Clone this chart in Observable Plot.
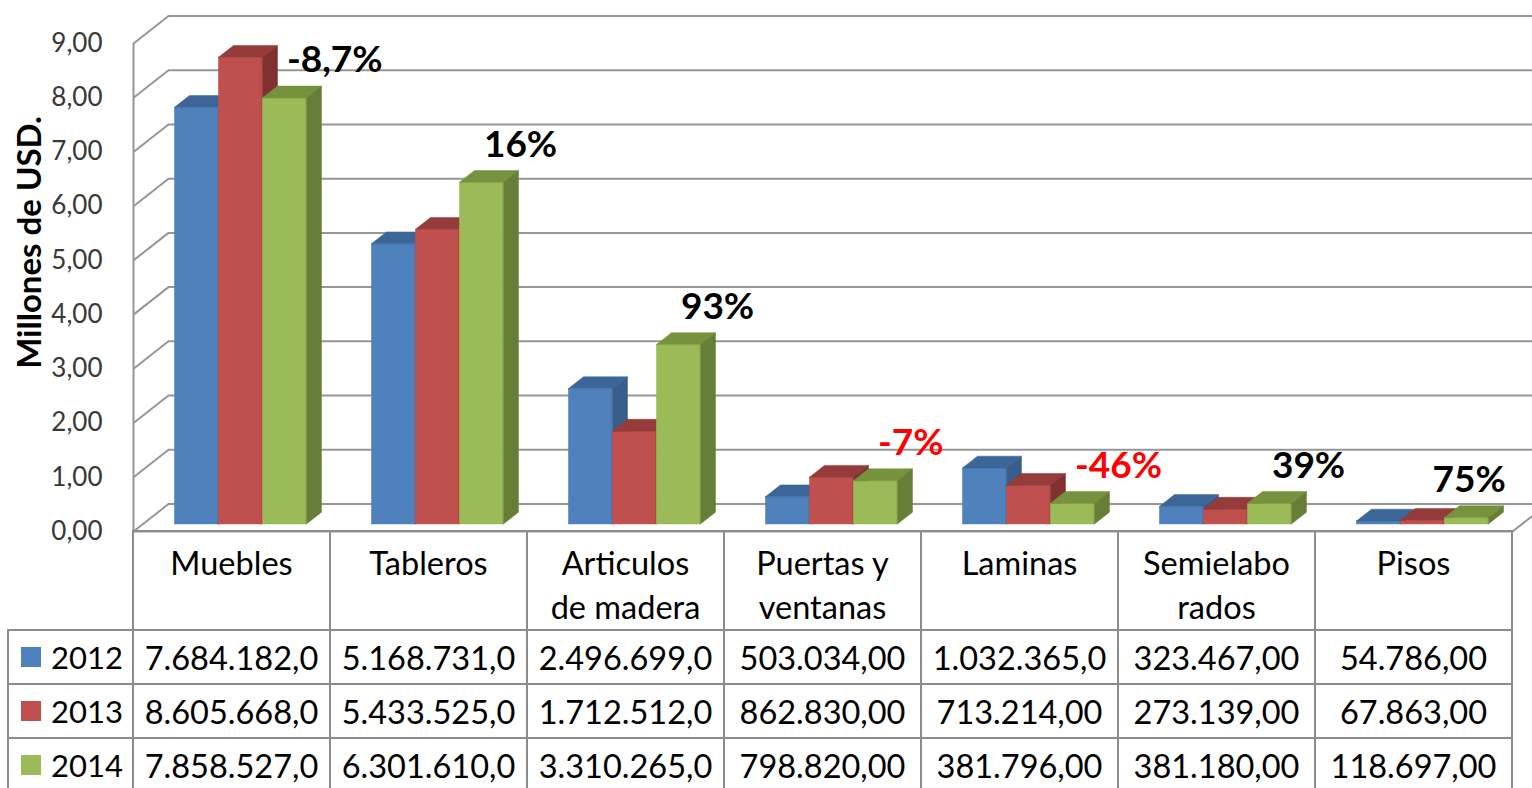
<!DOCTYPE html>
<html>
<head>
<meta charset="utf-8">
<script src="https://cdn.jsdelivr.net/npm/d3@7"></script>
<script src="https://cdn.jsdelivr.net/npm/@observablehq/plot@0.6"></script>
<style>
  html, body { margin: 0; padding: 0; background: #fff; }
  #wrap { position: relative; width: 1532px; height: 788px; overflow: hidden; font-family: Lato, "Open Sans", sans-serif; background: #fff; }
  #wrap svg { position: absolute; left: 0; top: 0; }
  .cell { position: absolute; box-sizing: border-box; border: 2px solid #8c8c8c; display: flex; align-items: center; justify-content: center; font-size: 32.5px; color: #000; white-space: nowrap; }
  .head { align-items: flex-start; text-align: center; white-space: normal; overflow-wrap: anywhere; line-height: 44px; padding: 9px 20px 0 20px; }
  .leg { justify-content: flex-start; padding-left: 12px; font-size: 31px; }
  .sw { width: 20px; height: 20px; margin-right: 10px; flex: none; }
</style>
</head>
<body>
<div id="wrap"></div>
<script>
// ---- data ----
const categories = ["Muebles", "Tableros", "Articulos de madera", "Puertas y ventanas", "Laminas", "Semielaborados", "Pisos"];
const years = ["2012", "2013", "2014"];
const v2012 = [7684182.0, 5168731.0, 2496699.0, 503034.00, 1032365.0, 323467.00, 54786.00];
const v2013 = [8605668.0, 5433525.0, 1712512.0, 862830.00, 713214.00, 273139.00, 67863.00];
const v2014 = [7858527.0, 6301610.0, 3310265.0, 798820.00, 381796.00, 381180.00, 118697.00];
const pctLabels = ["-8,7%", "16%", "93%", "-7%", "-46%", "39%", "75%"];
const pctHighlight = [false, false, false, true, true, false, false];
const yTicks = [0, 1, 2, 3, 4, 5, 6, 7, 8, 9];
const yTitle = "Millones de USD.";

// ---- styles ----
const frontColors = ["#4F81BD", "#C0504D", "#9BBB59"];
const topColors = ["#3C6697", "#953B39", "#76923C"];
const sideColors = ["#385D8A", "#7F302F", "#667E37"];
const gridColor = "#969696";

// ---- geometry ----
const W = 1532, H = 533, mL = 133, mR = 20, mT = 43, mB = 2;
const kx = (W - mL - mR) / categories.length;
const ky = (H - mT - mB) / 9;
const DXu = 35 / kx, DYu = 27.5 / ky;      // full wall depth in data units
const F0 = 0.255, FD = 0.43;               // bar front depth, bar thickness (fractions)
const BW = 44 / kx, PAD = (1 - 3 * BW) / 2;

const series = [v2012, v2013, v2014];
const fmtTick = d => d.toFixed(2).replace(".", ",");
function fmtVal(v) {
  const dec = v >= 1e6 ? 1 : 2;
  const [a, b] = v.toFixed(dec).split(".");
  return a.replace(/\B(?=(\d{3})+(?!\d))/g, ".") + "," + b;
}

const barMarks = [];
series.forEach((vals, j) => {
  const bars = vals.map((raw, i) => {
    const x0 = i + PAD + j * BW + F0 * DXu;
    return {id: i, x0, x1: x0 + BW, yb: F0 * DYu, yt: raw / 1e6 + F0 * DYu};
  });
  const tops = bars.flatMap(b => [
    {id: b.id, y: b.yt, xa: b.x0, xb: b.x1},
    {id: b.id, y: b.yt + FD * DYu, xa: b.x0 + FD * DXu, xb: b.x1 + FD * DXu}
  ]);
  const sides = bars.flatMap(b => [
    {id: b.id, x: b.x1, ya: b.yb, yc: b.yt},
    {id: b.id, x: b.x1 + FD * DXu, ya: b.yb + FD * DYu, yc: b.yt + FD * DYu}
  ]);
  barMarks.push(
    Plot.rect(bars, {x1: "x0", x2: "x1", y1: "yb", y2: "yt", fill: frontColors[j], stroke: frontColors[j], strokeWidth: 0.5}),
    Plot.areaX(tops, {y: "y", x1: "xa", x2: "xb", z: "id", fill: topColors[j], stroke: topColors[j], strokeWidth: 0.5}),
    Plot.areaY(sides, {x: "x", y1: "ya", y2: "yc", z: "id", fill: sideColors[j], stroke: sideColors[j], strokeWidth: 0.5})
  );
});

// label starts just right of the 2014 bar's left edge, kept inside the plot frame
const labelData = pctLabels.map((t, i) => ({
  t, red: pctHighlight[i],
  x: Math.min(i + PAD + 2 * BW + F0 * DXu + 24 / kx, categories.length - 80 / kx),
  y: v2014[i] / 1e6 + F0 * DYu
}));

const chart = Plot.plot({
  width: W, height: H,
  marginLeft: mL, marginRight: mR, marginTop: mT, marginBottom: mB,
  x: {domain: [0, categories.length], axis: null},
  y: {domain: [0, 9], axis: null},
  style: {fontFamily: "Lato, sans-serif", background: "transparent", overflow: "visible"},
  marks: [
    // back wall gridlines
    Plot.ruleY(yTicks, {y: d => d + DYu, x1: DXu, x2: categories.length + DXu, stroke: gridColor, strokeWidth: 2}),
    // left wall diagonals
    Plot.link(yTicks, {x1: 0, y1: d => d, x2: DXu, y2: d => d + DYu, stroke: gridColor, strokeWidth: 2}),
    // left wall front edge
    Plot.ruleX([0], {y1: 0, y2: 9, stroke: gridColor, strokeWidth: 2}),
    // floor right edge + front edge
    Plot.link([0], {x1: categories.length, y1: 0, x2: categories.length + DXu, y2: DYu, stroke: gridColor, strokeWidth: 2}),
    Plot.ruleY([0], {x1: 0, x2: categories.length, stroke: gridColor, strokeWidth: 2}),
    ...barMarks,
    // y tick labels
    Plot.text(yTicks, {y: d => d, text: fmtTick, frameAnchor: "left", dx: -31, textAnchor: "end", fontSize: 26, fill: "#383838"}),
    // y title
    Plot.text([yTitle], {text: d => d, frameAnchor: "left", dx: -103, dy: -45, rotate: -90, textAnchor: "middle", fontSize: 33, fontWeight: "bold", fill: "#000"}),
    // percentage labels
    Plot.text(labelData, {x: "x", y: "y", text: "t", dy: -38, fontSize: 37, fontWeight: "bold", textAnchor: "start",
      fill: d => d.red ? "#FF0000" : "#000000"})
  ]
});

const wrap = document.getElementById("wrap");
wrap.appendChild(chart);

// ---- data table under the chart, aligned to the x scale ----
const xs = chart.scale("x");
const X = v => xs.apply(v);
const headTop = 531, headH = 99, rowH = 54, tableLeft = 8;
function cell(left, top, w, h, cls, html) {
  const d = document.createElement("div");
  d.className = "cell " + cls;
  d.style.left = (left - 1) + "px";
  d.style.top = (top - 1) + "px";
  d.style.width = (w + 2) + "px";
  d.style.height = (h + 2) + "px";
  d.innerHTML = html;
  wrap.appendChild(d);
  return d;
}
categories.forEach((c, i) => {
  cell(X(i), headTop, X(i + 1) - X(i), headH, "head", c);
});
series.forEach((vals, j) => {
  const top = headTop + headH + j * rowH;
  cell(tableLeft, top, X(0) - tableLeft, rowH, "leg",
    `<span class="sw" style="background:${frontColors[j]}"></span><span>${years[j]}</span>`);
  vals.forEach((v, i) => {
    cell(X(i), top, X(i + 1) - X(i), rowH, "", fmtVal(v));
  });
});
</script>
</body>
</html>
